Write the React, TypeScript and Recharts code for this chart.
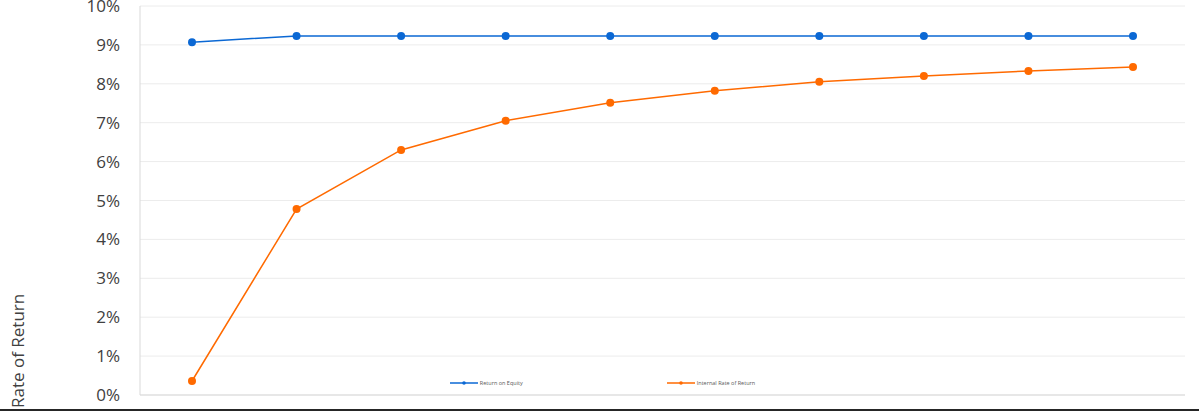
import React from "react";
import {
  LineChart,
  Line,
  XAxis,
  YAxis,
  CartesianGrid,
} from "recharts";

const years = ["1", "2", "3", "4", "5", "6", "7", "8", "9", "10"];
const returnOnEquity = [9.07, 9.23, 9.23, 9.23, 9.23, 9.23, 9.23, 9.23, 9.23, 9.23];
const internalRateOfReturn = [0.36, 4.78, 6.3, 7.05, 7.51, 7.82, 8.05, 8.2, 8.33, 8.43];
const percentTicks = [0, 1, 2, 3, 4, 5, 6, 7, 8, 9, 10];
const seriesNames = ["Return on Equity", "Internal Rate of Return"];

const BLUE = "#0b68d4";
const ORANGE = "#ff6a00";
const FONT = "'Open Sans', sans-serif";

const chartData = years.map((year, i) => ({
  year,
  roe: returnOnEquity[i],
  irr: internalRateOfReturn[i],
}));

const legendItems = [
  { name: seriesNames[0], color: BLUE },
  { name: seriesNames[1], color: ORANGE },
];

const ChartLegend = () => (
  <div
    style={{
      position: "absolute",
      top: 379,
      left: 0,
      width: 1199,
      display: "flex",
      justifyContent: "center",
      gap: 144,
      fontFamily: FONT,
      fontSize: 5.5,
      color: "#595959",
      paddingLeft: 6,
      boxSizing: "border-box",
    }}
  >
    {legendItems.map((item) => (
      <div key={item.name} style={{ display: "flex", alignItems: "center" }}>
        <svg width={28} height={6} style={{ marginRight: 2 }}>
          <line x1={0} y1={3} x2={28} y2={3} stroke={item.color} strokeWidth={1.5} />
          <circle cx={14} cy={3} r={1.8} fill={item.color} />
        </svg>
        <span>{item.name}</span>
      </div>
    ))}
  </div>
);

const RateLabel = () => (
  <text
    x={24}
    y={408}
    transform="rotate(-90, 24, 408)"
    fontFamily={FONT}
    fontSize={17}
    fill="#404040"
    textAnchor="start"
  >
    Rate of Return
  </text>
);

const App = () => {
  return (
    <div style={{ position: "absolute", left: 0, top: 0, width: 1199, height: 413 }}>
      <LineChart
        width={1199}
        height={413}
        data={chartData}
        margin={{ top: 6, right: 14, bottom: 0, left: 0 }}
      >
        <CartesianGrid vertical={false} stroke="#ececec" />
        <XAxis
          dataKey="year"
          height={18}
          tick={false}
          tickLine={false}
          axisLine={{ stroke: "#d9d9d9" }}
          padding={{ left: 52, right: 52 }}
        />
        <YAxis
          width={140}
          domain={[0, 10]}
          ticks={percentTicks}
          interval={0}
          tickFormatter={(v: number) => `${v}%`}
          tickLine={false}
          tickSize={0}
          tickMargin={20}
          axisLine={{ stroke: "#d9d9d9" }}
          tick={{ fill: "#404040", fontSize: 17, fontFamily: FONT }}
          label={<RateLabel />}
        />
        <Line
          name={seriesNames[0]}
          dataKey="roe"
          stroke={BLUE}
          strokeWidth={1.5}
          dot={{ r: 4, fill: BLUE, stroke: BLUE, strokeWidth: 0 }}
          isAnimationActive={false}
        />
        <Line
          name={seriesNames[1]}
          dataKey="irr"
          stroke={ORANGE}
          strokeWidth={1.5}
          dot={{ r: 4, fill: ORANGE, stroke: ORANGE, strokeWidth: 0 }}
          isAnimationActive={false}
        />
      </LineChart>
      <ChartLegend />
      <div
        style={{
          position: "absolute",
          left: 0,
          top: 409,
          width: 1199,
          height: 2,
          background: "#262626",
        }}
      />
    </div>
  );
};

export default App;
